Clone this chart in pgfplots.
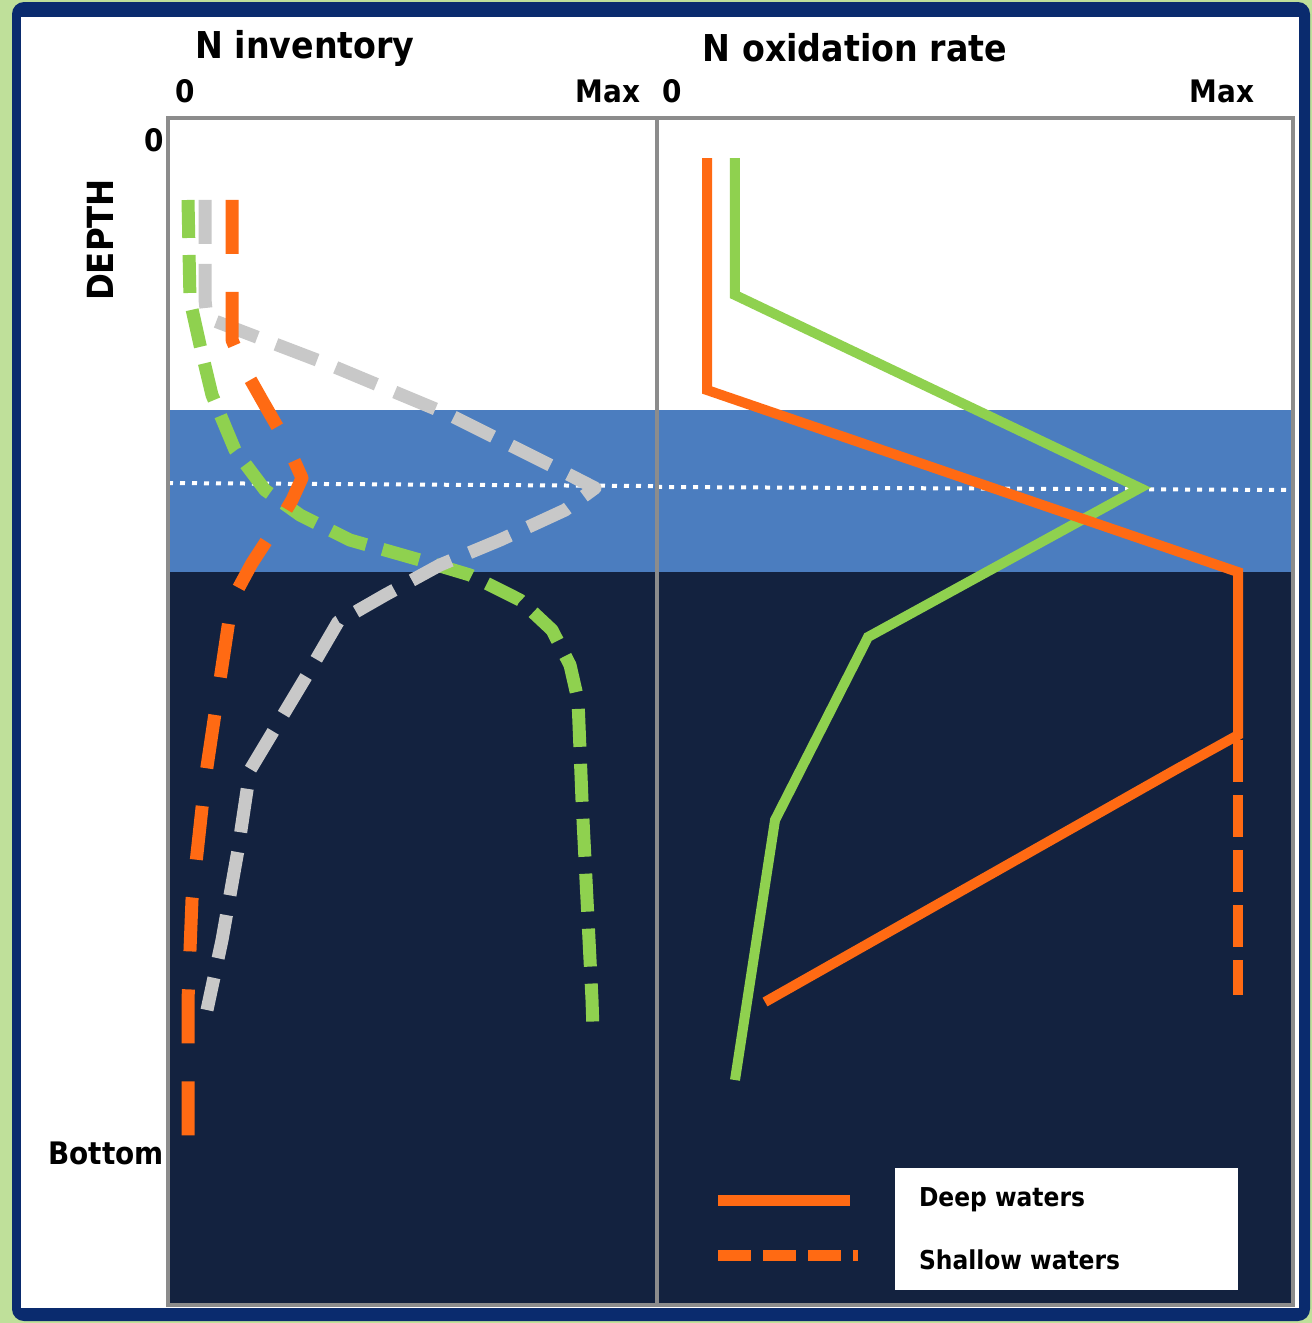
\documentclass[border=0pt]{standalone}
\usepackage{pgfplots}
\pgfplotsset{compat=1.18}
\usepackage{fontspec}
\setmainfont{DejaVu Sans Condensed}
\definecolor{myorange}{HTML}{FF6A13}
\definecolor{mygreen}{HTML}{8FD14F}
\definecolor{mygrey}{HTML}{C8C8C8}
\definecolor{band}{HTML}{4B7DBF}
\definecolor{deep}{HTML}{13223F}
\definecolor{framec}{HTML}{0A2B6E}
\definecolor{outer}{HTML}{BFE09A}
\definecolor{axgray}{HTML}{8C8C8C}
\pgfplotsset{
  panel/.style={
    scale only axis, anchor=north west,
    height=593.5pt,
    y dir=reverse, ymin=-0.0217, ymax=1.1500,
    axis line style={axgray, line width=2pt},
    tick style={draw=none},
    xtick={0,1}, xticklabels={0,Max}, xticklabel pos=upper,
    ticklabel style={font=\bfseries\fontsize{15.5}{15.5}\selectfont},
    xticklabel style={yshift=4pt},
    axis on top,
  },
}
\begin{document}
\begin{tikzpicture}
\begin{scope}[x=0.5pt,y=-0.5pt]
  \fill[outer] (0,0) rectangle (1312,1323);
  \fill[framec, rounded corners=6pt] (12,2) rectangle (1310,1321);
  \fill[white] (21,17) rectangle (1299,1308);
  \node[font=\bfseries\fontsize{18.5}{18.5}\selectfont] at (305,48) {N inventory};
  \node[font=\bfseries\fontsize{18.5}{18.5}\selectfont] at (855,48) {N oxidation rate};
  \node[font=\bfseries\fontsize{18}{18}\selectfont, rotate=90] at (100,240) {DEPTH};
\end{scope}

% Left panel: N inventory
\begin{axis}[panel, at={(84pt,-59pt)}, width=244.5pt,
  xmin=-0.0402, xmax=1.1158,
  ytick={0,1}, yticklabels={0,Bottom},
  yticklabel style={inner sep=2pt}]
  \fill[band] (axis cs:-1,0.2665) rectangle (axis cs:2,0.4265);
  \fill[deep] (axis cs:-1,0.4265) rectangle (axis cs:2,1.3);
  \addplot[white, line width=2pt, dash pattern=on 2.5pt off 3.5pt] coordinates {(-0.0402,0.3386) (1.1158,0.3416)};
  % green dashed
  \addplot[mygreen, line width=6.5pt, dash pattern=on 19pt off 8.5pt, line join=round] coordinates {
    (0.0071,0.0592) (0.0118,0.1579) (0.0355,0.2024) (0.0638,0.2517) (0.1182,0.3060)
    (0.1891,0.3455) (0.2719,0.3702) (0.3901,0.3949) (0.5556,0.4146) (0.6738,0.4294)
    (0.7920,0.4541) (0.8676,0.4837) (0.9102,0.5183) (0.9291,0.5528) (0.9385,0.6515)
    (0.9504,0.7502) (0.9622,0.8490) (0.9645,0.8786)};
  % grey dashed
  \addplot[mygrey, line width=6.5pt, dash pattern=on 22pt off 10pt, line join=round] coordinates {
    (0.0473,0.0592) (0.0473,0.1579) (0.0520,0.1757) (0.3428,0.2221) (0.6265,0.2715)
    (0.8865,0.3258) (0.9693,0.3435) (0.8983,0.3653) (0.7447,0.3949) (0.6028,0.4195)
    (0.4728,0.4492) (0.3617,0.4758) (0.2955,0.5232) (0.2246,0.5726) (0.1537,0.6219)
    (0.1253,0.7009) (0.0875,0.7897) (0.0520,0.8588)};
  % orange dashed
  \addplot[myorange, line width=6.5pt, dash pattern=on 27pt off 19pt, line join=round] coordinates {
    (0.1111,0.0592) (0.1111,0.1974) (0.1418,0.2270) (0.1820,0.2567) (0.2364,0.2962)
    (0.2766,0.3337) (0.2530,0.3554) (0.2246,0.3751) (0.1584,0.4176) (0.1111,0.4541)
    (0.0827,0.5331) (0.0473,0.6318) (0.0165,0.7502) (0.0071,0.8490) (0.0071,0.9970)};
\end{axis}

% Right panel: N oxidation rate
\begin{axis}[panel, at={(328.5pt,-59pt)}, width=318pt,
  xmin=-0.0273, xmax=1.1291, ytick=\empty]
  \fill[band] (axis cs:-1,0.2665) rectangle (axis cs:2,0.4265);
  \fill[deep] (axis cs:-1,0.4265) rectangle (axis cs:2,1.3);
  \addplot[white, line width=2pt, dash pattern=on 2.5pt off 3.5pt] coordinates {(-0.0273,0.3425) (1.1291,0.3455)};
  % green solid (deep)
  \addplot[mygreen, line width=5pt] coordinates {
    (0.1145,0.0178) (0.1145,0.1530) (0.8509,0.3435) (0.3564,0.4906) (0.1873,0.6713) (0.1145,0.9279)};
  % orange solid (deep)
  \addplot[myorange, line width=5pt] coordinates {
    (0.0636,0.0178) (0.0636,0.2468) (1.0291,0.4265) (1.0291,0.5874) (0.9145,0.6219) (0.1691,0.8509)};
  % orange dashed (shallow)
  \addplot[myorange, line width=5pt, dash pattern=on 21pt off 6.5pt] coordinates {
    (1.0291,0.5923) (1.0291,0.8440)};
\end{axis}

\begin{scope}[x=0.5pt,y=-0.5pt]
  \fill[white] (895,1168) rectangle (1238,1290);
  \draw[myorange, line width=5.5pt] (718,1200) -- (850,1200);
  \draw[myorange, line width=5.5pt, dash pattern=on 16.5pt off 6pt] (718,1255) -- (858,1255);
  \node[anchor=west, font=\bfseries\fontsize{13}{13}\selectfont] at (912,1200) {Deep waters};
  \node[anchor=west, font=\bfseries\fontsize{13}{13}\selectfont] at (912,1260) {Shallow waters};
\end{scope}
\end{tikzpicture}
\end{document}
